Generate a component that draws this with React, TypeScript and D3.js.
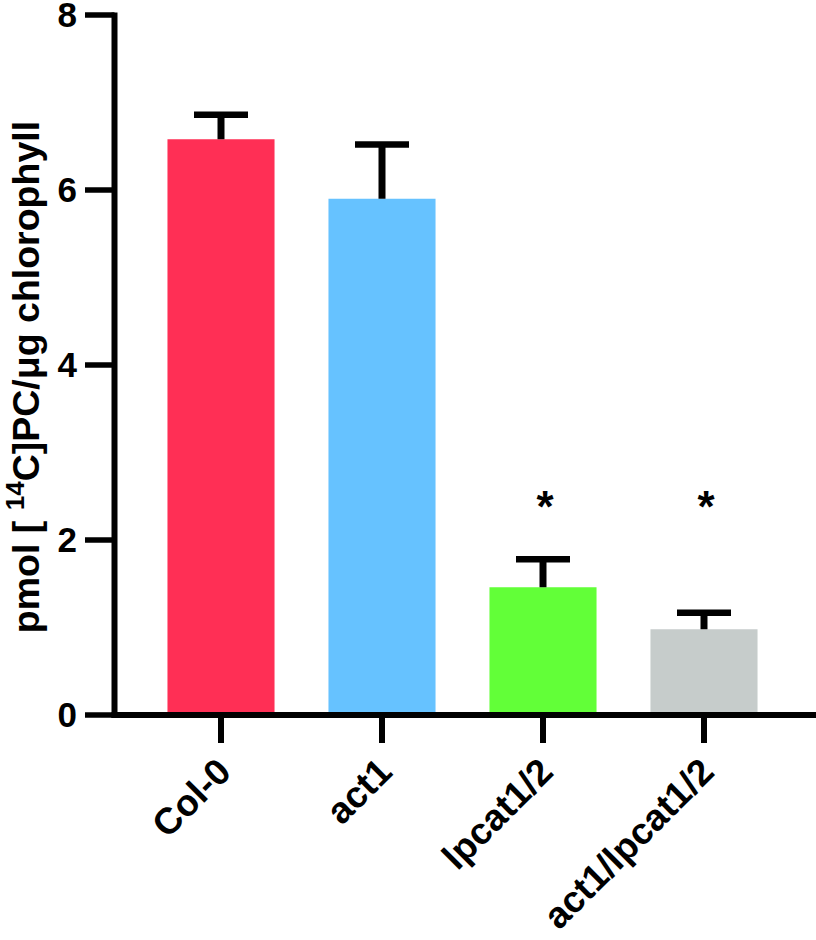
import React from "react";
import * as d3 from "d3";

const categories = ["Col-0", "act1", "lpcat1/2", "act1/lpcat1/2"];
const means = [6.58, 5.9, 1.46, 0.98];
const errors = [0.28, 0.62, 0.32, 0.19];
const colors = ["#FF2F55", "#66C2FF", "#62FF38", "#C6CCCB"];
const significant = [false, false, true, true];
const yTicks = [0, 2, 4, 6, 8];

const FONT = "'Liberation Sans', Arial, Helvetica, sans-serif";

export default function App() {
  const W = 816;
  const H = 940;
  const y = d3.scaleLinear().domain([0, 8]).range([715, 15]);
  const x = d3
    .scaleBand<string>()
    .domain(categories)
    .range([140.5, 784.5])
    .paddingInner(0.335)
    .paddingOuter(0.1675);
  const axisX = 114.5;
  const bw = x.bandwidth();
  const capW = 54;

  return (
    <svg
      width={W}
      height={H}
      style={{ position: "absolute", left: 0, top: 0, background: "#fff" }}
      fontFamily={FONT}
    >
      <rect x={0} y={0} width={W} height={H} fill="#fff" />
      {/* bars */}
      {categories.map((c, i) => (
        <rect
          key={c}
          x={x(c)!}
          y={y(means[i])}
          width={bw}
          height={y(0) - y(means[i])}
          fill={colors[i]}
        />
      ))}
      {/* error bars */}
      {categories.map((c, i) => {
        const cx = x(c)! + bw / 2;
        const top = y(means[i] + errors[i]);
        return (
          <g key={c + "err"} stroke="#000">
            <line x1={cx} x2={cx} y1={y(means[i])} y2={top} strokeWidth={7} />
            <line x1={cx - capW / 2} x2={cx + capW / 2} y1={top} y2={top} strokeWidth={6.5} />
          </g>
        );
      })}
      {/* asterisks */}
      {categories.map((c, i) =>
        significant[i] ? (
          <text
            key={c + "sig"}
            x={x(c)! + bw / 2 + 2}
            y={522}
            textAnchor="middle"
            fontSize={44}
            fontWeight="bold"
          >
            *
          </text>
        ) : null
      )}
      {/* y axis */}
      <line x1={axisX} x2={axisX} y1={y(8) - 2.5} y2={y(0) + 3} stroke="#000" strokeWidth={6} />
      {yTicks.map((t) => (
        <g key={t}>
          <line x1={85} x2={axisX} y1={y(t)} y2={y(t)} stroke="#000" strokeWidth={5.5} />
          <text
            x={77}
            y={y(t)}
            dy="0.35em"
            textAnchor="end"
            fontSize={35}
            fontWeight="bold"
          >
            {t}
          </text>
        </g>
      ))}
      {/* x axis */}
      <line x1={axisX - 3} x2={W} y1={y(0)} y2={y(0)} stroke="#000" strokeWidth={6} />
      {categories.map((c) => {
        const cx = x(c)! + bw / 2;
        return (
          <g key={c + "xt"}>
            <line x1={cx} x2={cx} y1={y(0)} y2={743} stroke="#000" strokeWidth={6} />
            <text
              transform={`translate(${cx + 12},${774}) rotate(-45)`}
              textAnchor="end"
              fontSize={37}
              fontWeight="bold"
            >
              {c}
            </text>
          </g>
        );
      })}
      {/* y label */}
      <text
        transform={`translate(39,377) rotate(-90)`}
        textAnchor="middle"
        fontSize={37.5}
        fontWeight="bold"
      >
        pmol [ <tspan fontSize={26} dy={-15}>14</tspan>
        <tspan dy={15}>C]PC/μg chlorophyll</tspan>
      </text>
    </svg>
  );
}
